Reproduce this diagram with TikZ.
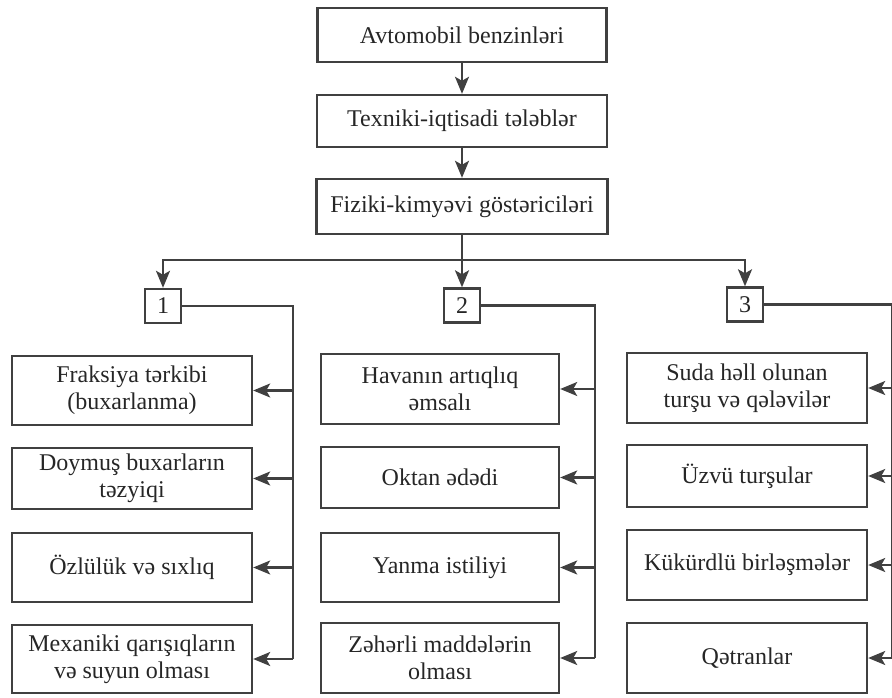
\documentclass[tikz,border=0pt]{standalone}
\usepackage{fontspec}
\setmainfont{Liberation Serif}
\usetikzlibrary{arrows.meta}
\definecolor{ink}{gray}{0.25}
\tikzset{
	blok/.style={draw=ink,line width=2.4pt,inner sep=2pt,align=center,font=\fontsize{24}{27}\selectfont,text=black!85},
	nomre/.style={blok,minimum width=36pt,minimum height=34pt},
	sol/.style={blok,minimum width=240pt},
	orta/.style={blok,minimum width=238pt},
	sag/.style={blok,minimum width=240pt},
	xett/.style={draw=ink,line width=2.2pt},
	ox/.style={xett,-{Stealth[length=17pt,width=14pt,inset=4pt]}}
}
\begin{document}
\begin{tikzpicture}[x=1pt,y=-1pt]
	\useasboundingbox (0,0) rectangle (892,698);
	\node[blok,minimum width=289pt,minimum height=54pt] (avto) at (462,35) {Avtomobil benzinləri};
	\node[blok,minimum width=290pt,minimum height=52pt] (tex) at (462,121) {Texniki-iqtisadi tələblər};
	\node[blok,minimum width=291pt,minimum height=55pt] (fiz) at (462,206.5) {Fiziki-kimyəvi göstəriciləri};
	\node[nomre] (n1) at (163,306) {1};
	\node[nomre] (n2) at (462,305.5) {2};
	\node[nomre] (n3) at (745,304.5) {3};
	\node[sol,minimum height=69pt] (s1) at (132,390.5) {Fraksiya tərkibi\\(buxarlanma)};
	\node[sol,minimum height=61pt] (s2) at (132,478.5) {Doymuş buxarların\\təzyiqi};
	\node[sol,minimum height=69pt] (s3) at (132,567.5) {Özlülük və sıxlıq};
	\node[sol,minimum height=68pt] (s4) at (132,659) {Mexaniki qarışıqların\\və suyun olması};
	\node[orta,minimum height=70pt] (o1) at (440,389) {Havanın artıqlıq\\əmsalı};
	\node[orta,minimum height=61pt] (o2) at (440,477.5) {Oktan ədədi};
	\node[orta,minimum height=69pt] (o3) at (440,567.5) {Yanma istiliyi};
	\node[orta,minimum height=70pt] (o4) at (440,658) {Zəhərli maddələrin\\olması};
	\node[sag,minimum height=70pt] (g1) at (747,388) {Suda həll olunan\\turşu və qələvilər};
	\node[sag,minimum height=62pt] (g2) at (747,476) {Üzvü turşular};
	\node[sag,minimum height=70pt] (g3) at (747,565) {Kükürdlü birləşmələr};
	\node[sag,minimum height=70pt] (g4) at (747,658) {Qətranlar};
	\draw[ox] (avto) -- (tex);
	\draw[ox] (tex) -- (fiz);
	\coordinate (bus) at (462,260);
	\draw[xett] (fiz.south) -- (bus);
	\draw[ox] (bus) -| (n1.north);
	\draw[ox] (bus) -| (n3.north);
	\draw[ox] (bus) -- (n2.north);
	\coordinate (k1) at (293,0);
	\coordinate (k2) at (595,0);
	\coordinate (k3) at (892,0);
	\draw[xett] (n1.east) -| (k1 |- s4.east);
	\draw[xett] (n2.east) -| (k2 |- o4.east);
	\draw[xett] (n3.east) -| (k3 |- g4.east);
	\foreach \b in {s1,s2,s3,s4}
		\draw[ox] (k1 |- \b.east) -- (\b.east);
	\foreach \b in {o1,o2,o3,o4}
		\draw[ox] (k2 |- \b.east) -- (\b.east);
	\foreach \b in {g1,g2,g3,g4}
		\draw[ox] (k3 |- \b.east) -- (\b.east);
\end{tikzpicture}
\end{document}
